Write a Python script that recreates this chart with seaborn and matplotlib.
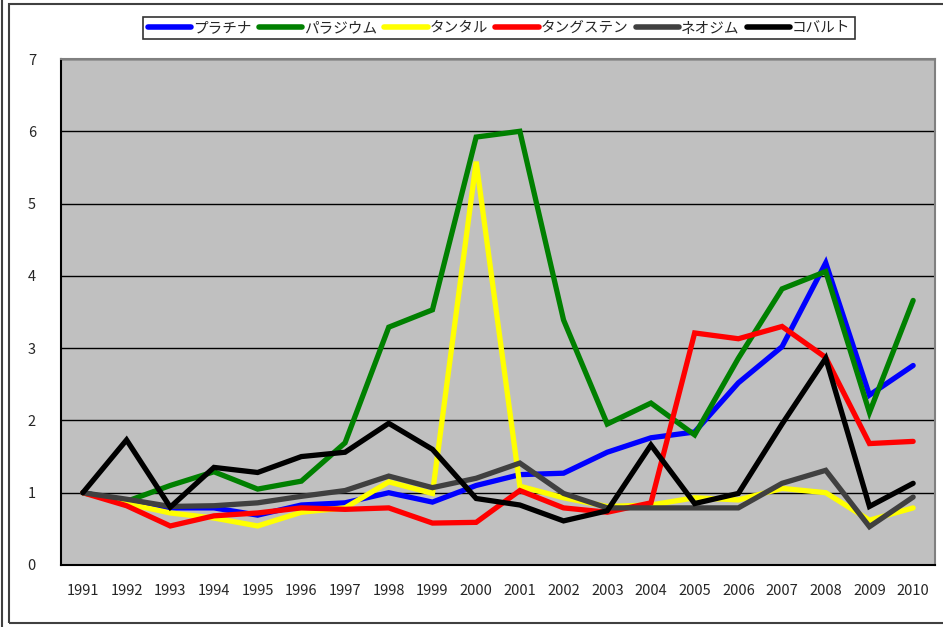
import matplotlib
matplotlib.use("Agg")
import matplotlib.pyplot as plt
from matplotlib.patches import Rectangle
from matplotlib.lines import Line2D
import seaborn as sns
import pandas as pd

years = [str(y) for y in range(1991, 2011)]

platinum = [1.00, 0.88, 0.79, 0.79, 0.69, 0.83, 0.86, 1.00, 0.87, 1.10,
            1.25, 1.27, 1.56, 1.76, 1.84, 2.52, 3.02, 4.18, 2.35, 2.76]
palladium = [1.00, 0.88, 1.10, 1.29, 1.05, 1.16, 1.69, 3.29, 3.53, 5.92,
             6.00, 3.39, 1.95, 2.24, 1.80, 2.86, 3.82, 4.06, 2.11, 3.66]
tantalum = [1.00, 0.85, 0.72, 0.65, 0.54, 0.73, 0.79, 1.15, 0.99, 5.58,
            1.09, 0.93, 0.81, 0.83, 0.93, 0.90, 1.06, 1.00, 0.62, 0.79]
tungsten = [1.00, 0.82, 0.54, 0.68, 0.72, 0.79, 0.77, 0.79, 0.58, 0.59,
            1.03, 0.79, 0.73, 0.86, 3.21, 3.13, 3.30, 2.87, 1.68, 1.71]
neodymium = [1.00, 0.91, 0.81, 0.82, 0.86, 0.95, 1.03, 1.23, 1.07, 1.20,
             1.41, 0.99, 0.79, 0.79, 0.79, 0.79, 1.13, 1.31, 0.53, 0.94]
cobalt = [1.00, 1.73, 0.80, 1.35, 1.28, 1.50, 1.56, 1.96, 1.60, 0.92,
          0.83, 0.61, 0.75, 1.66, 0.85, 0.99, 1.95, 2.86, 0.81, 1.13]

names = ["プラチナ", "パラジウム", "タンタル", "タングステン", "ネオジム", "コバルト"]
colors = ["#0000ff", "#008000", "#ffff00", "#ff0000", "#404040", "#000000"]
series = [platinum, palladium, tantalum, tungsten, neodymium, cobalt]

rows = []
for name, vals in zip(names, series):
    for yr, v in zip(years, vals):
        rows.append({"year": yr, "value": v, "metal": name})
df = pd.DataFrame(rows)

sns.set_style("white")
plt.rcParams["font.family"] = ["Noto Sans CJK JP", "DejaVu Sans"]

fig = plt.figure(figsize=(9.43, 6.27), dpi=100)
ax = fig.add_axes([61 / 943, 62 / 627, 874 / 943, 506 / 627])
ax.set_facecolor("#c0c0c0")

sns.lineplot(data=df, x="year", y="value", hue="metal", hue_order=names,
             palette=colors, linewidth=3.8, sort=False, legend=False, ax=ax,
             solid_capstyle="round", solid_joinstyle="miter", zorder=3)

ax.set_xlim(-0.5, 19.5)
ax.set_ylim(0, 7)
ax.set_yticks(range(0, 8))
ax.yaxis.grid(True, color="black", linewidth=1.0)
ax.set_axisbelow(True)
ax.set_xticks(range(len(years)))
ax.set_xticklabels(years)
ax.set_xticks([i + 0.5 for i in range(len(years) - 1)], minor=True)
ax.tick_params(axis="x", which="major", length=0, pad=14, labelsize=10.5)
ax.tick_params(axis="x", which="minor", direction="in", length=4, width=1, color="black")
ax.tick_params(axis="y", length=0, pad=18, labelsize=10.5)
ax.set_xlabel("")
ax.set_ylabel("")

for side in ["left", "bottom"]:
    ax.spines[side].set_color("black")
    ax.spines[side].set_linewidth(1.5)
for side in ["top", "right"]:
    ax.spines[side].set_color("#808080")
    ax.spines[side].set_linewidth(1.5)

handles = [Line2D([0], [0], color=c, linewidth=4, solid_capstyle="round") for c in colors]
leg = fig.legend(handles, names, loc="center", bbox_to_anchor=(499 / 943, 1 - 28 / 627),
                 ncol=6, frameon=True, fancybox=False, edgecolor="black",
                 fontsize=10.5, handlelength=3.0, handletextpad=0.1, columnspacing=0.5,
                 borderpad=0.3)
leg.get_frame().set_linewidth(1.2)

# outer chart borders
fig.patches.append(Rectangle((9 / 943, 4 / 627), 940 / 943, 619 / 627,
                             transform=fig.transFigure, fill=False,
                             edgecolor="#404040", linewidth=1.5))
fig.lines.append(Line2D([2 / 943, 2 / 943], [0, 1], transform=fig.transFigure,
                        color="#404040", linewidth=1.5))

fig.savefig("out.png", dpi=100)
